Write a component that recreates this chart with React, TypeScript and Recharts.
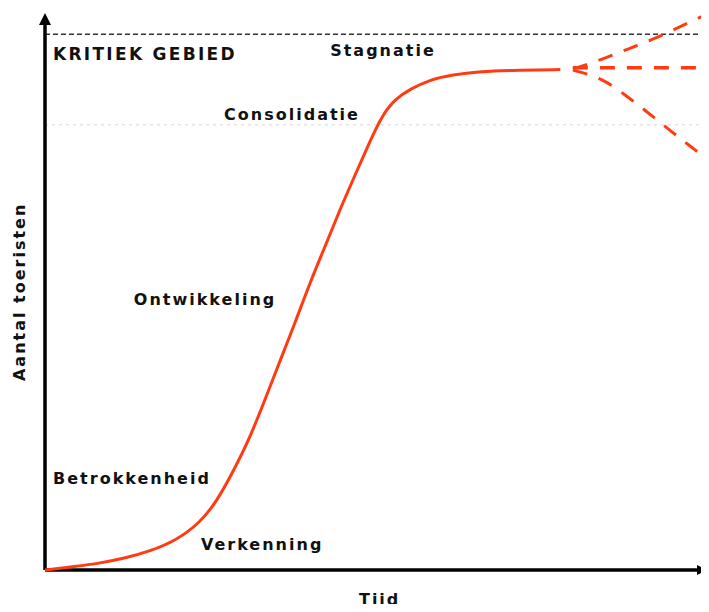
import React from 'react';
import { LineChart, Line, XAxis, YAxis, ReferenceLine, ReferenceDot } from 'recharts';

// Growth curve (time vs. number of tourists), arbitrary 0-100 units
const growthTime = [0, 4.5, 8.3, 12.1, 15.8, 19.6, 23.3, 25.9, 28.3, 30.9, 33.1, 35.4, 37.7, 39.9, 42.2, 44.4, 46.7, 49.0, 50.8, 52.7, 55.0, 58.0, 61.0, 65.5, 71.5, 77.6];
const growthTourists = [0, 0.6, 1.2, 2.1, 3.3, 5.1, 8.2, 12.1, 17.2, 23.3, 29.8, 36.7, 43.5, 50.4, 56.8, 63.2, 69.3, 75.4, 79.8, 82.6, 84.4, 86.0, 86.8, 87.5, 87.7, 87.8];

// Future scenarios after stagnation
const upTime = [79.5, 83.6, 87.8, 91.9, 95.6, 100];
const upTourists = [87.9, 89.5, 91.4, 93.3, 95.3, 97.7];
const flatTime = [79.5, 100];
const flatTourists = [88.1, 88.1];
const downTime = [79.5, 84.5, 88.3, 91.6, 94.6, 97.9, 100];
const downTourists = [87.7, 85.6, 82.5, 79.5, 76.7, 73.7, 71.8];

const criticalLevel = 94.0;
const capacityLevel = 78.1;

const phaseLabels = ['Stagnatie', 'Consolidatie', 'Ontwikkeling', 'Betrokkenheid', 'Verkenning'];
const phaseTime = [50.9, 37.2, 24.1, 13.1, 32.7];
const phaseTourists = [91.2, 80.0, 47.4, 16.0, 4.4];

const criticalLabel = 'KRITIEK GEBIED';
const xLabel = 'Tijd';
const yLabel = 'Aantal toeristen';

const toPoints = (xs: number[], ys: number[]) => xs.map((x, i) => ({ x, y: ys[i] }));
const growthData = toPoints(growthTime, growthTourists);
const upData = toPoints(upTime, upTourists);
const flatData = toPoints(flatTime, flatTourists);
const downData = toPoints(downTime, downTourists);

const RED = '#ff3b12';
const FONT = {
  fontFamily: '"DejaVu Sans", Verdana, sans-serif',
  fontWeight: 700 as const,
  fontSize: 16,
  letterSpacing: 2,
  fill: '#111',
};

const ArrowLine = (dir: 'up' | 'right') => (p: any) => {
  const { x1, y1, x2, y2 } = p;
  let head = '';
  if (dir === 'up') {
    head = `${x2 - 6},${y2 + 12} ${x2 + 6},${y2 + 12} ${x2},${y2}`;
  } else {
    head = `${x2 - 10},${y2 - 5} ${x2 - 10},${y2 + 5} ${x2},${y2}`;
  }
  const ex = dir === 'up' ? x2 : x2 - 8;
  const ey = dir === 'up' ? y2 + 10 : y2;
  return (
    <g>
      <line x1={x1} y1={y1} x2={ex} y2={ey} stroke="#000" strokeWidth={3.5} />
      <polygon points={head} fill="#000" />
    </g>
  );
};

const textShape = (value: string, anchor: 'start' | 'middle' = 'middle', rotate = false, extra: any = {}) => (p: any) => (
  <text
    x={p.cx}
    y={p.cy}
    textAnchor={anchor}
    dominantBaseline="central"
    transform={rotate ? `rotate(-90 ${p.cx} ${p.cy})` : undefined}
    style={{ ...FONT, ...extra }}
  >
    {value}
  </text>
);

export default function App() {
  return (
    <div style={{ margin: -8, width: 709, height: 612, background: '#fff' }}>
      <LineChart width={709} height={612} margin={{ top: 0, right: 0, left: 45, bottom: 42 }}>
        <XAxis type="number" dataKey="x" domain={[0, 100]} hide />
        <YAxis type="number" dataKey="y" domain={[0, 100]} hide />

        <ReferenceLine y={capacityLevel} stroke="#e4e4e4" strokeWidth={1.5} strokeDasharray="3 4" />
        <ReferenceLine y={criticalLevel} stroke="#333" strokeWidth={1.5} strokeDasharray="5 3" />

        <ReferenceLine segment={[{ x: 0, y: 0 }, { x: 0, y: 97.7 }]} shape={ArrowLine('up')} />
        <ReferenceLine segment={[{ x: 0, y: 0 }, { x: 99.7, y: 0 }]} shape={ArrowLine('right')} />

        <Line data={growthData} dataKey="y" type="basis" stroke={RED} strokeWidth={3} dot={false} isAnimationActive={false} />
        <Line data={upData} dataKey="y" type="monotone" stroke={RED} strokeWidth={3} strokeDasharray="15 12" dot={false} isAnimationActive={false} />
        <Line data={flatData} dataKey="y" type="monotone" stroke={RED} strokeWidth={3.5} strokeDasharray="15 12" dot={false} isAnimationActive={false} />
        <Line data={downData} dataKey="y" type="monotone" stroke={RED} strokeWidth={3} strokeDasharray="15 12" dot={false} isAnimationActive={false} />

        <ReferenceDot x={1.2} y={90.5} r={0} ifOverflow="visible" shape={textShape(criticalLabel, 'start', false, { fontSize: 17, letterSpacing: 2.3 })} />
        {phaseLabels.map((label, i) => (
          <ReferenceDot key={label} x={phaseTime[i]} y={phaseTourists[i]} r={0} ifOverflow="visible" shape={textShape(label)} />
        ))}
        <ReferenceDot x={50.4} y={-5.1} r={0} ifOverflow="visible" shape={textShape(xLabel)} />
        <ReferenceDot x={-3.8} y={48.8} r={0} ifOverflow="visible" shape={textShape(yLabel, 'middle', true)} />
      </LineChart>
    </div>
  );
}
